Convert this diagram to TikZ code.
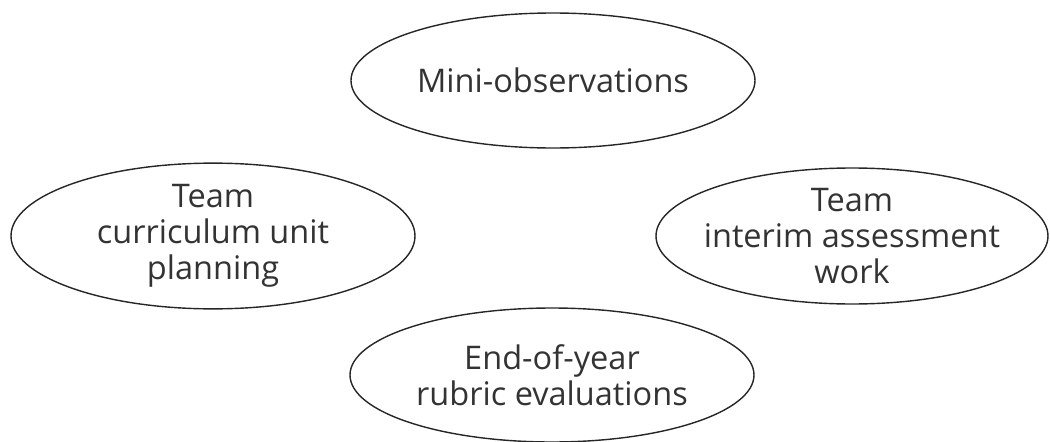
\documentclass[tikz,border=0pt]{standalone}
\usepackage{fontspec}
\setmainfont{Open Sans}
\usetikzlibrary{shapes.geometric}
\tikzstyle{oval} = [ellipse, draw=black!85, text=black!80, line width=0.8pt, inner sep=0pt, align=center, font=\fontsize{18.5}{20.5}\selectfont]

\begin{document}
\begin{tikzpicture}
        \useasboundingbox (0,0) rectangle (21,8.82);
        \node[oval, minimum width=8.08cm, minimum height=2.7cm] (mini) at (11.06,7.21) {Mini-observations};
        \node[oval, minimum width=8.08cm, minimum height=2.72cm] (unit) at (4.26,4.10) {Team\\curriculum unit\\planning};
        \node[oval, inner xsep=-0.4cm, minimum width=7.84cm, minimum height=2.72cm] (interim) at (17.04,4.10) {Team\\interim assessment\\work};
        \node[oval, minimum width=8.08cm, minimum height=2.68cm] (rubric) at (11.04,1.32) {End-of-year\\rubric evaluations};
    \end{tikzpicture}
\end{document}
